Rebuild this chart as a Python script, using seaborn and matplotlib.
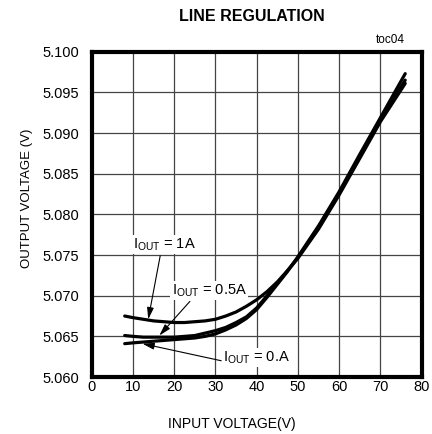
import pandas as pd
import matplotlib
matplotlib.use("Agg")
import matplotlib.pyplot as plt
import seaborn as sns

# data
vin = [8, 10, 12.5, 15, 17.5, 20, 22.5, 25, 27.5, 30, 32.5, 35, 37.5, 40,
       42.5, 45, 47.5, 50, 55, 60, 65, 70, 76]
vout_1a = [5.0675, 5.0673, 5.0671, 5.0669, 5.0668, 5.0667, 5.0667, 5.0668,
           5.0669, 5.0671, 5.0675, 5.0680, 5.0687, 5.0695, 5.0705, 5.0717,
           5.0731, 5.0746, 5.0782, 5.0824, 5.0869, 5.0914, 5.0961]
vout_05a = [5.0651, 5.0650, 5.0649, 5.0649, 5.0649, 5.0649, 5.0650, 5.0651,
            5.0654, 5.0657, 5.0661, 5.0667, 5.0674, 5.0685, 5.0700, 5.0715,
            5.0731, 5.0747, 5.0784, 5.0826, 5.0872, 5.0916, 5.0965]
vout_0a = [5.0641, 5.0642, 5.0643, 5.0644, 5.0645, 5.0646, 5.0647, 5.0648,
           5.0650, 5.0653, 5.0658, 5.0664, 5.0672, 5.0683, 5.0698, 5.0714,
           5.0730, 5.0748, 5.0786, 5.0828, 5.0874, 5.0919, 5.0973]

x_ticks = [0, 10, 20, 30, 40, 50, 60, 70, 80]
y_ticks = [5.060, 5.065, 5.070, 5.075, 5.080, 5.085, 5.090, 5.095, 5.100]

rows = []
for name, vals in [("1A", vout_1a), ("0.5A", vout_05a), ("0A", vout_0a)]:
    for xv, yv in zip(vin, vals):
        rows.append({"vin": xv, "vout": yv, "iout": name})
df = pd.DataFrame(rows)

sns.set_style("white")
plt.rcParams["font.family"] = ["Liberation Sans", "DejaVu Sans"]
plt.rcParams["text.color"] = "black"
plt.rcParams["axes.labelcolor"] = "black"
plt.rcParams["mathtext.fontset"] = "custom"
plt.rcParams["mathtext.rm"] = "Liberation Sans"
plt.rcParams["mathtext.it"] = "Liberation Sans"

fig = plt.figure(figsize=(4.32, 4.34), dpi=100)
ax = fig.add_axes([0.2123, 0.1313, 0.7639, 0.7496])

sns.lineplot(data=df, x="vin", y="vout", hue="iout",
             palette={"1A": "black", "0.5A": "black", "0A": "black"},
             linewidth=2.3, legend=False, ax=ax, zorder=3)

ax.set_xlim(0, 80)
ax.set_ylim(5.060, 5.100)
ax.set_xticks(x_ticks)
ax.set_yticks(y_ticks)
ax.set_xticklabels([str(t) for t in x_ticks])
ax.set_yticklabels([f"{t:.3f}" for t in y_ticks])
ax.tick_params(axis="both", length=0, labelsize=10.5, colors="black")
ax.tick_params(axis="y", pad=9)
ax.tick_params(axis="x", pad=2)
ax.grid(True, color="#444444", linewidth=0.9)
ax.set_axisbelow(True)
for sp in ax.spines.values():
    sp.set_linewidth(3)
    sp.set_color("black")

ax.set_xlabel("INPUT VOLTAGE(V)", fontsize=10)
ax.set_ylabel("OUTPUT VOLTAGE (V)", fontsize=9.5)
ax.xaxis.set_label_coords(0.425, -0.123)
ax.yaxis.set_label_coords(-0.178, 0.549)

# curve labels and arrows
box = dict(facecolor="white", edgecolor="none", pad=1)
arrow = dict(arrowstyle="-|>,head_length=0.7,head_width=0.2", color="black",
             lw=0.8, shrinkA=0, shrinkB=0)
ax.text(10.0, 5.0763, r"I$_{\rm OUT}$ = 1A", fontsize=10.5, ha="left", va="center",
        bbox=box, zorder=5)
ax.annotate("", xy=(13.7, 5.0671), xytext=(16.6, 5.0749), arrowprops=arrow, zorder=4)
ax.text(19.4, 5.0706, r"I$_{\rm OUT}$ = 0.5A", fontsize=10.5, ha="left", va="center",
        bbox=box, zorder=5)
ax.annotate("", xy=(16.4, 5.0651), xytext=(23.8, 5.0693), arrowprops=arrow, zorder=4)
ax.text(31.9, 5.0624, r"I$_{\rm OUT}$ = 0.A", fontsize=10.5, ha="left", va="center",
        bbox=box, zorder=5)
ax.annotate("", xy=(12.3, 5.0641), xytext=(31.4, 5.0620), arrowprops=arrow, zorder=4)

fig.text(0.583, 0.961, "LINE REGULATION", fontsize=11.5, fontweight="bold",
         ha="center", va="center")
fig.text(0.9375, 0.908, "toc04", fontsize=8.5, ha="right", va="center")

fig.savefig("out.png", dpi=100)
